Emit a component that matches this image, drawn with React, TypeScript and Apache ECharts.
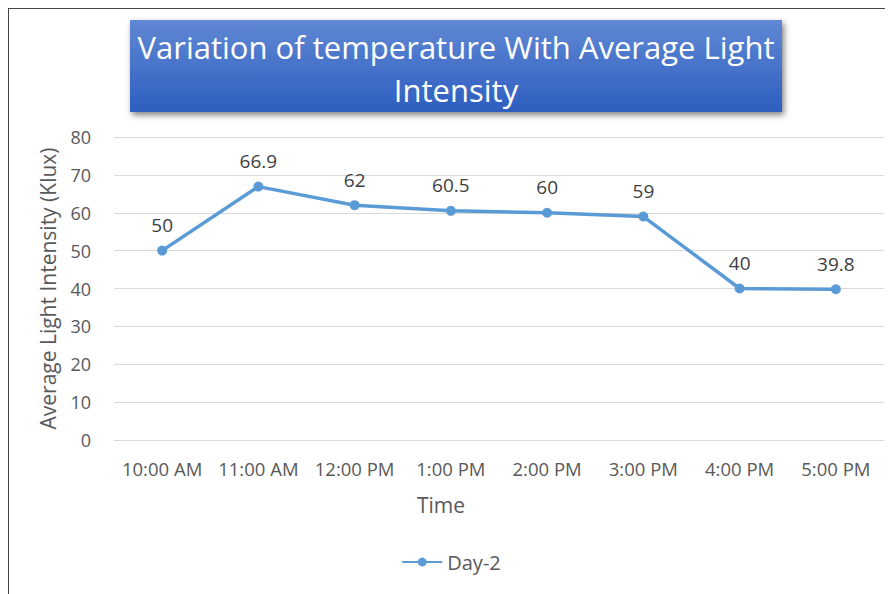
import React, { useEffect, useRef } from "react";
import * as echarts from "echarts";

const categories = ["10:00 AM", "11:00 AM", "12:00 PM", "1:00 PM", "2:00 PM", "3:00 PM", "4:00 PM", "5:00 PM"];
const day2 = [50, 66.9, 62, 60.5, 60, 59, 40, 39.8];
const titleLines = ["Variation of temperature With Average Light", "Intensity"];

export default function App() {
  const ref = useRef<HTMLDivElement>(null);
  useEffect(() => {
    document.body.style.overflow = "hidden";
    const chart = echarts.init(ref.current!, null, { renderer: "svg" });
    const font = "Open Sans, sans-serif";
    chart.setOption({
      animation: false,
      backgroundColor: "#fff",
      textStyle: { fontFamily: font },
      grid: { left: 105, right: 9, top: 128, bottom: 154, containLabel: false },
      graphic: [
        {
          type: "group",
          left: 121,
          top: 11,
          children: [
            {
              type: "rect",
              shape: { x: 0, y: 0, width: 652, height: 92 },
              style: {
                fill: new echarts.graphic.LinearGradient(0, 0, 0, 1, [
                  { offset: 0, color: "#6088d3" },
                  { offset: 1, color: "#2e5ec0" },
                ]),
                shadowBlur: 6,
                shadowOffsetX: 2,
                shadowOffsetY: 3,
                shadowColor: "rgba(0,0,0,0.5)",
              },
            },
            {
              type: "text",
              x: 326,
              y: 27,
              style: { text: titleLines[0], fill: "#fff", font: "31px " + font, align: "center", verticalAlign: "middle" },
            },
            {
              type: "text",
              x: 326,
              y: 70,
              style: { text: titleLines[1], fill: "#fff", font: "31px " + font, align: "center", verticalAlign: "middle" },
            },
          ],
        },
      ],
      legend: {
        bottom: 17,
        left: "center",
        data: ["Day-2"],
        itemWidth: 40,
        itemHeight: 11,
        itemGap: 4,
        textStyle: { color: "#595959", fontSize: 20, fontFamily: font },
      },
      xAxis: {
        type: "category",
        data: categories,
        name: "Time",
        nameLocation: "middle",
        nameGap: 54,
        nameTextStyle: { color: "#595959", fontSize: 21, fontFamily: font, padding: [0, 116, 0, 0] },
        axisLine: { lineStyle: { color: "#d9d9d9" } },
        axisTick: { show: false },
        axisLabel: { color: "#595959", fontSize: 18.5, margin: 19, fontFamily: font, interval: 0, hideOverlap: false },
      },
      yAxis: {
        type: "value",
        min: 0,
        max: 80,
        interval: 10,
        name: "Average Light Intensity (Klux)",
        nameLocation: "middle",
        nameGap: 56,
        nameTextStyle: { color: "#595959", fontSize: 21, fontFamily: font },
        axisLine: { show: false },
        axisTick: { show: false },
        axisLabel: { color: "#595959", fontSize: 18, margin: 23, fontFamily: font },
        splitLine: { lineStyle: { color: "#d9d9d9" } },
      },
      series: [
        {
          name: "Day-2",
          type: "line",
          data: day2,
          symbol: "circle",
          symbolSize: 10,
          color: "#5b9bd5",
          lineStyle: { width: 3.5, color: "#5b9bd5" },
          label: { show: true, position: "top", distance: 11, color: "#404040", fontSize: 19, fontFamily: font },
        },
      ],
    });
    return () => chart.dispose();
  }, []);
  return (
    <div
      ref={ref}
      style={{ width: 884, height: 585, borderLeft: "1px solid #444", borderTop: "1px solid #444" }}
    />
  );
}
